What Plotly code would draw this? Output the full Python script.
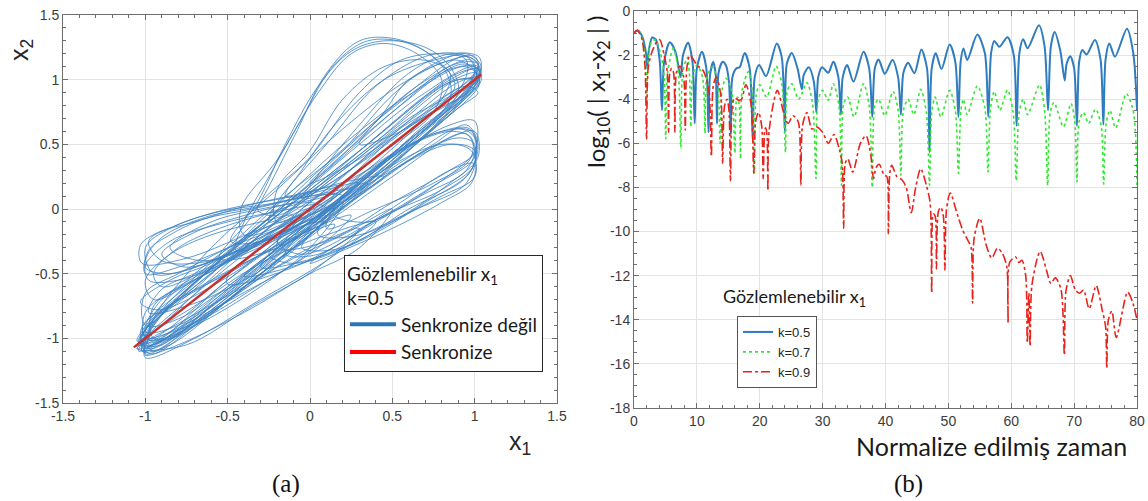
import plotly.graph_objects as go

# ------------------------------------------------------------------
# Panel (a): phase portrait x2 vs x1
# ------------------------------------------------------------------
SYNC_X1 = [-1.07, 1.04]
SYNC_X2 = [-1.07, 1.04]

LOOPS_DIAG = [
    [(0,0.12),(0.5,0.66),(0.9,1.05),(1.03,1.08),(0.9,0.85),(0.5,0.42),(0,-0.1),(-0.5,-0.62),(-0.9,-1.02),(-1.05,-1.08),(-0.9,-0.9),(-0.5,-0.42)],
    [(0,0.2),(0.5,0.75),(0.88,1.12),(1.02,1.12),(0.95,0.9),(0.6,0.45),(0.1,-0.1),(-0.4,-0.6),(-0.85,-1.05),(-1.02,-1.1),(-0.92,-0.85),(-0.5,-0.35)],
    [(0.1,0.3),(0.6,0.9),(0.95,1.18),(1.04,1.05),(0.8,0.7),(0.3,0.12),(-0.2,-0.4),(-0.7,-0.9),(-1.0,-1.12),(-0.98,-0.95),(-0.6,-0.45),(-0.2,-0.02)],
    [(-0.1,0.02),(0.4,0.52),(0.85,0.98),(1.02,1.0),(0.85,0.78),(0.4,0.3),(-0.1,-0.22),(-0.6,-0.75),(-0.95,-1.1),(-1.0,-0.98),(-0.7,-0.6),(-0.4,-0.3)],
    [(0.2,0.45),(0.65,0.95),(0.98,1.15),(1.0,0.95),(0.7,0.6),(0.2,0.05),(-0.3,-0.5),(-0.8,-0.98),(-1.04,-1.05),(-0.9,-0.78),(-0.5,-0.3),(-0.15,0.1)],
    [(0,0.05),(0.45,0.52),(0.9,0.98),(1.03,1.02),(0.92,0.88),(0.45,0.38),(0,-0.05),(-0.5,-0.55),(-0.92,-0.98),(-1.06,-1.06),(-0.95,-0.93),(-0.5,-0.45)],
    [(-0.2,0.15),(0.2,0.62),(0.6,1.0),(0.9,1.15),(1.03,1.0),(0.8,0.72),(0.3,0.2),(-0.2,-0.35),(-0.7,-0.85),(-0.98,-1.05),(-0.95,-0.85),(-0.6,-0.3)],
    [(0.05,-0.05),(0.5,0.35),(0.9,0.78),(1.02,0.9),(0.95,0.95),(0.6,0.68),(0.2,0.3),(-0.3,-0.2),(-0.75,-0.65),(-1.02,-0.92),(-0.95,-1.02),(-0.5,-0.55)],
    [(0.3,0.5),(0.7,0.9),(1.0,1.1),(1.04,1.0),(0.85,0.75),(0.4,0.25),(-0.1,-0.3),(-0.6,-0.8),(-0.97,-1.12),(-1.03,-1.0),(-0.7,-0.62),(-0.2,-0.05)],
    [(-0.3,-0.12),(0.1,0.35),(0.5,0.78),(0.85,1.08),(1.02,1.1),(0.9,0.88),(0.4,0.32),(-0.1,-0.2),(-0.6,-0.72),(-1.0,-1.08),(-0.98,-0.88),(-0.7,-0.5)],
    [(0.15,0.35),(0.55,0.8),(0.92,1.12),(1.03,1.06),(0.88,0.82),(0.45,0.35),(-0.05,-0.18),(-0.55,-0.7),(-0.93,-1.06),(-1.04,-1.02),(-0.8,-0.7),(-0.35,-0.18)],
    [(-0.05,0.1),(0.35,0.5),(0.8,0.95),(1.01,1.05),(0.9,0.8),(0.5,0.38),(0.05,-0.08),(-0.45,-0.58),(-0.88,-1.0),(-1.02,-0.96),(-0.75,-0.62),(-0.45,-0.3)],
    [(0.25,0.55),(0.6,0.88),(0.95,1.1),(1.03,0.98),(0.75,0.62),(0.25,0.1),(-0.25,-0.42),(-0.75,-0.92),(-1.02,-1.1),(-0.96,-0.9),(-0.55,-0.4),(-0.1,0.15)],
    [(-0.15,0.0),(0.3,0.45),(0.75,0.92),(1.0,1.08),(0.93,0.9),(0.55,0.48),(0.1,0.0),(-0.4,-0.5),(-0.85,-0.95),(-1.04,-1.1),(-0.9,-0.82),(-0.55,-0.4)],
    [(0.1,0.22),(0.5,0.62),(0.9,1.0),(1.02,0.98),(0.8,0.72),(0.35,0.25),(-0.1,-0.25),(-0.6,-0.78),(-0.98,-1.08),(-1.03,-0.95),(-0.7,-0.55),(-0.3,-0.12)],
]

LOOPS_UPPER = [
    [(-0.1,0.55),(0.1,1.05),(0.3,1.3),(0.5,1.32),(0.7,1.22),(0.83,1.05),(0.85,0.85),(0.6,0.5),(0.2,0.05),(-0.2,-0.3),(-0.55,-0.38),(-0.35,-0.05)],
    [(-0.05,0.7),(0.15,1.12),(0.35,1.3),(0.6,1.28),(0.8,1.12),(0.88,0.95),(0.7,0.7),(0.3,0.25),(-0.1,-0.15),(-0.45,-0.32),(-0.4,-0.1),(-0.25,0.25)],
    [(0.05,0.9),(0.25,1.2),(0.45,1.28),(0.65,1.2),(0.8,1.0),(0.75,0.75),(0.4,0.4),(0,0.0),(-0.4,-0.2),(-0.42,0.0),(-0.2,0.38)],
    [(0.3,0.9),(0.55,1.15),(0.8,1.2),(0.95,1.15),(0.92,0.95),(0.6,0.7),(0.2,0.3),(-0.2,-0.05),(-0.32,0.0),(0.0,0.4)],
    [(0.4,0.95),(0.7,1.18),(0.9,1.2),(1.02,1.12),(0.88,0.9),(0.5,0.58),(0.1,0.15),(-0.25,-0.1),(-0.2,0.05),(0.1,0.5)],
    [(0.3,0.65),(0.6,1.05),(0.85,1.2),(1.03,1.17),(1.0,0.95),(0.7,0.72),(0.3,0.35),(-0.05,0.08),(0.0,0.18)],
    [(0.5,0.88),(0.75,1.12),(0.95,1.2),(1.04,1.1),(0.95,0.9),(0.65,0.68),(0.25,0.35),(0.0,0.2),(0.2,0.45)],
    [(-0.15,0.5),(0.05,0.95),(0.25,1.22),(0.45,1.3),(0.7,1.25),(0.85,1.1),(0.9,0.9),(0.65,0.6),(0.25,0.15),(-0.15,-0.2),(-0.48,-0.25),(-0.32,0.05)],
    [(0.6,1.0),(0.85,1.15),(1.0,1.18),(1.02,1.02),(0.85,0.85),(0.55,0.6),(0.3,0.5),(0.45,0.75)],
    [(0.15,0.65),(0.45,1.0),(0.75,1.15),(0.95,1.18),(1.0,1.05),(0.8,0.85),(0.45,0.5),(0.05,0.15),(-0.15,0.1),(-0.05,0.3)],
    [(0.0,0.45),(0.2,0.85),(0.45,1.1),(0.7,1.15),(0.85,1.05),(0.8,0.85),(0.5,0.55),(0.15,0.15),(-0.2,-0.1),(-0.2,0.15)],
]

LOOPS_RIGHT = [
    [(0.5,0.25),(0.85,0.55),(1.0,0.6),(1.02,0.4),(0.85,0.2),(0.5,-0.1),(0.1,-0.35),(-0.3,-0.45),(-0.2,-0.3),(0.1,-0.1)],
    [(0.6,0.4),(0.9,0.62),(1.0,0.55),(0.98,0.3),(0.7,0.05),(0.3,-0.25),(-0.1,-0.42),(-0.25,-0.35),(0.2,0.05)],
    [(0.4,0.2),(0.75,0.5),(0.95,0.65),(1.02,0.5),(0.95,0.25),(0.6,0.0),(0.2,-0.3),(-0.05,-0.3),(0.0,-0.2)],
    [(0.45,0.3),(0.8,0.5),(0.98,0.45),(1.0,0.25),(0.8,0.1),(0.4,-0.15),(0,-0.4),(-0.4,-0.52),(-0.35,-0.45),(0,-0.15)],
    [(0.5,0.3),(0.85,0.5),(1.0,0.45),(0.95,0.2),(0.65,0.0),(0.3,-0.2),(0.05,-0.2),(0.1,-0.05)],
    [(0.3,0.1),(0.7,0.45),(0.95,0.58),(1.0,0.35),(0.8,0.15),(0.45,-0.05),(0.05,-0.35),(-0.15,-0.35),(-0.1,-0.25)],
    [(0.6,0.38),(0.9,0.55),(1.0,0.5),(0.95,0.3),(0.7,0.12),(0.35,-0.1),(0.15,-0.05),(0.2,0.0)],
    [(0.5,0.4),(0.85,0.65),(1.0,0.68),(1.0,0.45),(0.8,0.22),(0.4,-0.1),(-0.1,-0.45),(-0.5,-0.58),(-0.5,-0.52),(0,-0.05)],
    [(0.55,0.45),(0.85,0.6),(0.98,0.55),(0.97,0.38),(0.75,0.2),(0.4,0.0),(0.1,-0.15),(0.2,0.1)],
    [(0.35,0.3),(0.75,0.58),(0.97,0.62),(1.01,0.45),(0.85,0.3),(0.5,0.05),(0.1,-0.25),(-0.2,-0.3),(-0.05,0.0)],
    [(0.55,0.05),(0.85,0.3),(1.0,0.35),(0.98,0.2),(0.8,0.05),(0.5,-0.15),(0.2,-0.32),(0.0,-0.42),(0.2,-0.25)],
    [(0.4,0.35),(0.8,0.6),(0.98,0.6),(1.0,0.4),(0.75,0.18),(0.35,-0.12),(-0.05,-0.35),(-0.2,-0.25),(0.1,0.05)],
]

LOOPS_LEFT = [
    [(-0.55,-0.02),(-0.2,0.05),(0.1,0.15),(0.3,0.2),(0.1,0.0),(-0.3,-0.25),(-0.7,-0.45),(-0.95,-0.5),(-1.0,-0.3),(-0.85,-0.15)],
    [(-0.6,-0.05),(-0.3,0.02),(0.0,0.1),(0.2,0.1),(0.0,-0.1),(-0.4,-0.35),(-0.8,-0.55),(-0.98,-0.55),(-1.0,-0.4),(-0.9,-0.22)],
    [(-0.5,0.0),(-0.1,0.1),(0.25,0.22),(0.45,0.25),(0.2,0.05),(-0.2,-0.2),(-0.6,-0.4),(-0.9,-0.4),(-0.98,-0.25),(-0.8,-0.12)],
    [(-0.55,-0.15),(-0.3,-0.05),(0,0.05),(0.1,0.0),(-0.2,-0.2),(-0.6,-0.45),(-0.9,-0.6),(-0.95,-0.5),(-0.8,-0.3)],
    [(-0.4,-0.05),(-0.1,0.05),(0.15,0.12),(-0.05,-0.05),(-0.4,-0.28),(-0.75,-0.45),(-0.9,-0.35),(-0.7,-0.18)],
    [(-0.6,-0.2),(-0.3,-0.1),(-0.1,-0.05),(-0.3,-0.25),(-0.7,-0.55),(-0.95,-0.7),(-1.0,-0.55),(-0.85,-0.35)],
    [(-0.6,-0.1),(-0.3,0.0),(0.05,0.08),(0.35,0.2),(0.1,-0.05),(-0.3,-0.25),(-0.65,-0.4),(-0.85,-0.3)],
    [(-0.7,-0.1),(-0.4,0.02),(-0.05,0.12),(0.2,0.18),(0.05,0.02),(-0.35,-0.18),(-0.75,-0.38),(-1.02,-0.42),(-1.03,-0.28),(-0.92,-0.18)],
    [(-0.5,-0.1),(-0.2,-0.02),(0.05,0.03),(-0.15,-0.15),(-0.5,-0.35),(-0.85,-0.5),(-1.0,-0.45),(-0.85,-0.25)],
    [(-0.65,-0.08),(-0.35,0.0),(0.0,0.1),(0.25,0.15),(0.0,-0.05),(-0.4,-0.25),(-0.8,-0.45),(-1.0,-0.5),(-0.98,-0.32),(-0.85,-0.2)],
]

LOOPS_LOWER = [
    [(-0.5,-0.3),(-0.2,-0.1),(0,0.0),(-0.2,-0.3),(-0.5,-0.6),(-0.8,-0.85),(-1.0,-0.9),(-1.0,-0.65),(-0.8,-0.5)],
    [(-0.5,-0.4),(-0.1,-0.15),(0.1,-0.1),(-0.2,-0.4),(-0.5,-0.7),(-0.85,-1.0),(-1.0,-1.0),(-1.0,-0.8),(-0.8,-0.6)],
    [(-0.3,-0.25),(0,-0.05),(0.2,0.05),(0,-0.3),(-0.3,-0.6),(-0.7,-0.9),(-0.95,-1.0),(-0.95,-0.75),(-0.7,-0.55)],
    [(-0.3,-0.42),(0.1,-0.2),(0.4,-0.1),(0.1,-0.4),(-0.3,-0.7),(-0.7,-1.0),(-1.0,-1.15),(-0.98,-1.0),(-0.7,-0.75)],
    [(-0.2,-0.45),(0.2,-0.2),(0.5,0.0),(0.3,-0.3),(0,-0.5),(-0.4,-0.8),(-0.8,-1.05),(-1.0,-1.13),(-1.0,-1.1),(-0.6,-0.8)],
    [(-0.4,-0.6),(0,-0.3),(0.3,-0.15),(0.05,-0.45),(-0.35,-0.75),(-0.75,-1.05),(-1.05,-1.08),(-0.75,-0.85)],
    [(-0.45,-0.35),(-0.15,-0.12),(0.15,0.0),(-0.05,-0.25),(-0.4,-0.55),(-0.75,-0.75),(-0.98,-0.8),(-0.9,-0.62),(-0.7,-0.5)],
    [(-0.5,-0.5),(-0.1,-0.22),(0.25,-0.05),(0.05,-0.3),(-0.3,-0.58),(-0.7,-0.88),(-1.02,-1.0),(-0.95,-0.85),(-0.8,-0.7)],
    [(-0.6,-0.55),(-0.2,-0.3),(0.15,-0.12),(-0.05,-0.38),(-0.45,-0.68),(-0.85,-0.95),(-1.03,-1.05),(-0.95,-0.85)],
    [(-0.55,-0.45),(-0.2,-0.2),(0.1,-0.05),(-0.1,-0.32),(-0.45,-0.62),(-0.8,-0.9),(-1.0,-0.95),(-0.9,-0.7)],
    [(-0.65,-0.6),(-0.3,-0.35),(0.0,-0.15),(-0.2,-0.42),(-0.55,-0.75),(-0.9,-1.02),(-1.05,-1.02),(-0.9,-0.8)],
    [(-0.6,-0.42),(-0.3,-0.22),(-0.05,-0.05),(-0.25,-0.3),(-0.6,-0.6),(-0.92,-0.78),(-1.03,-0.72),(-0.85,-0.55)],
]

# ------------------------------------------------------------------
# Panel (b): log10(|x1-x2|) vs normalised time (t, value) read off
# ------------------------------------------------------------------
ERR_K05 = [(0.0,-1.0),(0.6,-0.88),(1.3,-1.15),(1.9,-1.9),(2.1,-2.6),(2.35,-1.8),(2.9,-1.2),(3.5,-1.3),(4.1,-2.3),(4.45,-4.5),(4.8,-2.3),(5.7,-1.42),(6.6,-1.85),(7.4,-3.0),(7.8,-2.0),(8.6,-1.44),(9.3,-2.3),(9.65,-5.1),(10.0,-2.6),(10.8,-1.85),(11.5,-2.6),(11.85,-5.5),(12.1,-2.9),(12.6,-2.3),(13.0,-2.9),(13.2,-5.1),(13.45,-2.8),(14.1,-2.3),(14.6,-2.45),(15.1,-3.2),(15.4,-5.6),(15.65,-3.0),(16.3,-2.6),(16.8,-2.55),(17.6,-1.9),(18.4,-2.6),(18.9,-5.9),(19.2,-3.0),(19.9,-2.45),(21.0,-2.95),(22.7,-1.47),(23.5,-2.1),(24.0,-5.5),(24.3,-2.4),(25.1,-1.9),(26.0,-2.6),(26.7,-3.55),(27.0,-2.9),(27.8,-2.55),(28.6,-3.2),(29.0,-4.6),(29.3,-3.0),(29.9,-2.55),(30.9,-2.8),(31.7,-2.3),(32.5,-3.0),(32.9,-4.7),(33.2,-3.0),(33.9,-2.45),(34.9,-3.2),(36.5,-1.85),(37.4,-2.6),(37.9,-4.8),(38.3,-2.6),(38.9,-2.2),(39.9,-2.85),(41.1,-2.22),(42.0,-3.0),(42.45,-4.7),(42.85,-2.8),(43.6,-2.35),(44.6,-2.82),(45.7,-1.75),(46.6,-2.6),(47.0,-6.4),(47.35,-2.6),(48.0,-1.92),(48.9,-2.63),(50.2,-1.52),(51.1,-2.3),(51.6,-4.8),(51.95,-2.3),(52.4,-1.7),(53.0,-2.22),(54.6,-1.07),(55.8,-1.9),(56.35,-4.8),(56.8,-1.9),(57.3,-1.36),(58.1,-1.62),(59.4,-1.19),(60.4,-2.0),(60.85,-5.2),(61.3,-1.9),(61.9,-1.28),(62.6,-1.69),(64.4,-0.65),(65.3,-1.6),(65.85,-4.5),(66.3,-1.6),(66.9,-0.95),(67.8,-1.8),(68.5,-3.15),(68.8,-2.4),(69.4,-2.05),(70.0,-2.6),(70.45,-5.2),(70.8,-2.3),(71.3,-1.77),(72.0,-1.97),(73.3,-1.31),(74.2,-2.2),(74.65,-5.15),(75.0,-2.2),(75.6,-1.47),(76.5,-2.07),(78.4,-0.8),(79.4,-1.9),(80.0,-4.5)]

ERR_K07 = [(0.0,-1.0),(0.6,-0.88),(1.3,-1.2),(1.8,-2.3),(2.0,-4.2),(2.25,-2.2),(2.7,-1.45),(3.4,-1.3),(4.2,-1.9),(4.8,-3.0),(5.05,-5.8),(5.35,-2.8),(6.25,-1.7),(7.0,-2.6),(7.45,-6.2),(7.75,-2.8),(8.5,-2.1),(8.8,-2.8),(9.05,-5.25),(9.3,-3.0),(10.0,-2.45),(10.9,-3.0),(11.3,-5.55),(11.6,-3.0),(12.5,-2.55),(13.3,-3.3),(13.7,-6.0),(14.0,-3.6),(14.6,-3.05),(15.5,-3.6),(16.05,-6.45),(16.3,-4.0),(16.5,-3.9),(16.75,-4.3),(16.95,-6.7),(17.2,-3.6),(18.2,-2.75),(18.8,-3.6),(19.15,-7.35),(19.45,-3.8),(20.0,-3.35),(21.1,-3.9),(22.6,-2.5),(23.5,-3.3),(24.1,-6.4),(24.4,-3.6),(25.1,-3.3),(26.2,-4.0),(27.5,-3.25),(28.4,-4.2),(28.95,-7.6),(29.3,-4.0),(30.0,-3.6),(30.9,-4.05),(31.7,-3.3),(32.6,-4.3),(33.0,-7.9),(33.35,-4.2),(34.0,-3.9),(35.0,-4.8),(36.5,-3.3),(37.4,-4.3),(37.9,-8.0),(38.3,-4.3),(38.9,-4.0),(39.9,-4.75),(41.2,-3.65),(42.0,-4.5),(42.45,-7.45),(42.85,-4.5),(43.6,-4.0),(44.5,-4.7),(45.6,-3.55),(46.5,-4.6),(47.0,-7.9),(47.35,-4.6),(47.9,-3.9),(48.8,-4.8),(50.2,-3.6),(51.1,-4.5),(51.6,-7.36),(52.0,-4.5),(52.4,-4.0),(53.0,-4.7),(54.6,-3.4),(55.8,-4.4),(56.3,-7.3),(56.7,-4.4),(57.3,-3.65),(58.2,-4.5),(59.4,-3.58),(60.3,-4.6),(60.8,-7.7),(61.25,-4.6),(61.9,-4.0),(62.6,-4.7),(64.5,-3.35),(65.3,-4.5),(65.8,-7.9),(66.2,-4.6),(66.8,-4.15),(68.3,-5.25),(69.5,-4.2),(70.1,-5.0),(70.45,-7.75),(70.8,-5.0),(71.5,-4.6),(72.3,-5.1),(73.4,-4.45),(74.3,-5.2),(74.7,-7.85),(75.1,-5.1),(75.7,-4.5),(76.6,-5.3),(78.3,-3.75),(79.3,-4.4),(79.75,-5.5),(80.0,-7.9)]

ERR_K09 = [(0.0,-1.0),(0.5,-0.88),(1.2,-1.2),(1.75,-2.5),(2.0,-5.8),(2.25,-2.6),(2.8,-1.9),(3.6,-1.4),(4.1,-1.3),(4.8,-2.0),(5.3,-2.8),(5.5,-5.5),(5.7,-2.8),(6.0,-2.6),(6.3,-2.8),(6.5,-5.5),(6.75,-2.8),(7.3,-2.5),(7.9,-3.0),(8.15,-5.4),(8.4,-2.6),(8.9,-2.0),(10.0,-2.45),(11.0,-2.7),(11.9,-3.6),(12.3,-6.6),(12.6,-3.4),(13.1,-3.0),(13.8,-3.8),(14.1,-6.9),(14.4,-4.3),(14.8,-4.0),(15.1,-4.5),(15.35,-7.7),(15.6,-4.4),(16.0,-3.95),(16.7,-4.05),(17.1,-4.0),(17.8,-3.35),(18.6,-4.2),(19.05,-7.35),(19.35,-5.0),(19.8,-4.6),(20.3,-5.2),(20.55,-7.6),(20.8,-5.4),(20.95,-5.3),(21.15,-5.6),(21.3,-8.15),(21.5,-5.4),(22.8,-3.6),(23.8,-4.6),(24.5,-5.1),(25.3,-4.75),(26.1,-5.0),(26.35,-5.5),(26.55,-7.9),(26.8,-5.2),(27.5,-4.6),(28.3,-5.35),(29.0,-5.25),(30.0,-5.5),(30.9,-6.0),(31.8,-5.6),(32.6,-6.2),(33.1,-6.9),(33.35,-9.85),(33.6,-6.9),(34.0,-6.7),(34.8,-7.3),(36.0,-6.0),(36.9,-5.65),(37.7,-6.6),(38.1,-7.6),(38.5,-7.1),(39.0,-6.95),(39.8,-7.45),(40.2,-7.5),(40.45,-10.1),(40.7,-7.3),(41.0,-7.0),(41.8,-7.5),(42.6,-7.65),(43.3,-8.0),(44.1,-9.15),(44.8,-8.0),(45.6,-7.15),(46.5,-7.9),(47.1,-8.7),(47.35,-12.8),(47.6,-9.2),(47.9,-9.3),(48.1,-11.7),(48.4,-9.1),(48.8,-8.9),(49.2,-9.3),(49.45,-11.75),(49.7,-9.0),(50.3,-8.25),(51.4,-9.2),(52.3,-9.95),(53.1,-10.4),(53.6,-10.7),(53.85,-13.25),(54.1,-10.3),(55.0,-9.4),(56.0,-10.6),(56.9,-11.2),(57.8,-10.75),(58.6,-11.0),(59.3,-11.6),(59.5,-14.15),(59.75,-11.4),(60.7,-11.15),(61.2,-11.4),(61.7,-11.3),(62.3,-12.0),(62.55,-15.05),(62.8,-12.8),(63.0,-15.2),(63.3,-12.4),(64.6,-10.9),(65.6,-11.75),(66.3,-12.35),(67.0,-12.1),(67.9,-12.6),(68.45,-15.6),(68.7,-12.7),(69.4,-12.0),(70.2,-12.65),(70.9,-12.8),(71.5,-12.65),(72.4,-13.5),(73.5,-12.45),(74.5,-13.6),(75.0,-14.3),(75.2,-16.2),(75.45,-14.0),(76.0,-13.6),(76.7,-14.8),(78.5,-12.75),(79.3,-13.2),(80.0,-14.0)]

# tick labels
A_TICKS = [-1.5, -1, -0.5, 0, 0.5, 1, 1.5]
A_TICKTEXT = ["-1.5", "-1", "-0.5", "0", "0.5", "1", "1.5"]
B_XTICKS = [0, 10, 20, 30, 40, 50, 60, 70, 80]
B_YTICKS = [0, -2, -4, -6, -8, -10, -12, -14, -16, -18]
B_YTICKTEXT = ["0", "-2", "-4", "-6", "-8", "-10", "-12", "-14", "-16", "-18"]

# ------------------------------------------------------------------
W, H = 1148, 501
def px(x): return x / W
def py(y): return 1 - y / H

def loops_to_xy(*families):
    xs, ys = [], []
    for fam in families:
        for loop in fam:
            pts = loop + [loop[0]]
            xs += [p[0] for p in pts] + [None]
            ys += [p[1] for p in pts] + [None]
    return xs, ys

BLUE = "#3a80c3"
fig = go.Figure()

lx, ly = loops_to_xy(LOOPS_DIAG, LOOPS_UPPER, LOOPS_RIGHT, LOOPS_LEFT, LOOPS_LOWER)
fig.add_trace(go.Scatter(x=lx, y=ly, mode="lines", xaxis="x", yaxis="y",
                         line=dict(color=BLUE, width=0.8, shape="spline", smoothing=1.0),
                         showlegend=False, hoverinfo="skip"))
fig.add_trace(go.Scatter(x=SYNC_X1, y=SYNC_X2, mode="lines", xaxis="x", yaxis="y",
                         line=dict(color="#c9302c", width=2.5), showlegend=False))
# legend entries for panel (a)
fig.add_trace(go.Scatter(x=[None], y=[None], mode="lines", xaxis="x", yaxis="y",
                         line=dict(color="#2e75b6", width=4), name="Senkronize değil", legend="legend"))
fig.add_trace(go.Scatter(x=[None], y=[None], mode="lines", xaxis="x", yaxis="y",
                         line=dict(color="#ff0000", width=4), name="Senkronize", legend="legend"))

for data, name, color, dash, w in [(ERR_K05, "k=0.5", "#2f7cc0", "solid", 2.0),
                                   (ERR_K07, "k=0.7", "#33e633", "dot", 1.6),
                                   (ERR_K09, "k=0.9", "#e8231c", "dashdot", 1.6)]:
    t = [p[0] for p in data]
    v = [p[1] for p in data]
    fig.add_trace(go.Scatter(x=t, y=v, mode="lines", xaxis="x2", yaxis="y2", name=name,
                             legend="legend2",
                             line=dict(color=color, width=w, dash=dash, shape="spline", smoothing=0.8)))

AX = dict(showline=True, linecolor="#6e6e6e", linewidth=1, mirror="ticks",
          ticks="inside", ticklen=5, tickcolor="#6e6e6e", automargin=False,
          showgrid=True, gridcolor="#e3e3e3", gridwidth=1, zeroline=False,
          tickfont=dict(family="Liberation Sans, Arial", size=14, color="#3c3c3c"))

fig.update_layout(
    width=W, height=H, margin=dict(l=0, r=0, t=0, b=0, autoexpand=False),
    paper_bgcolor="white", plot_bgcolor="white",
    xaxis=dict(AX, domain=[px(63), px(557)], range=[-1.5, 1.5], tickvals=A_TICKS, ticktext=A_TICKTEXT,
               minor=dict(ticks="inside", ticklen=3, dtick=0.1, tick0=0, showgrid=False, tickcolor="#6e6e6e"),
               anchor="y"),
    yaxis=dict(AX, domain=[py(403), py(15)], range=[-1.5, 1.5], tickvals=A_TICKS, ticktext=A_TICKTEXT,
               minor=dict(ticks="inside", ticklen=3, dtick=0.1, tick0=0, showgrid=False, tickcolor="#6e6e6e"),
               anchor="x"),
    xaxis2=dict(AX, domain=[px(634), px(1137)], range=[0, 80], tickvals=B_XTICKS,
                minor=dict(ticks="inside", ticklen=3, dtick=2, tick0=0, showgrid=False, tickcolor="#6e6e6e"),
                anchor="y2"),
    yaxis2=dict(AX, domain=[py(408), py(11)], range=[-18, 0], tickvals=B_YTICKS, ticktext=B_YTICKTEXT,
                minor=dict(ticks="inside", ticklen=3, dtick=0.5, tick0=0, showgrid=False, tickcolor="#6e6e6e"),
                anchor="x2"),
    legend=dict(x=px(344), y=py(255), xanchor="left", yanchor="top",
                bgcolor="white", bordercolor="#262626", borderwidth=1,
                font=dict(family="Lato", size=19, color="#1a1a1a"),
                title=dict(text="Gözlemlenebilir x<sub>1</sub><br>k=0.5",
                           font=dict(family="Lato", size=19, color="#1a1a1a")),
                itemwidth=46),
    legend2=dict(x=px(737), y=py(316), xanchor="left", yanchor="top",
                 bgcolor="white", bordercolor="#555555", borderwidth=1,
                 font=dict(family="Liberation Sans, Arial", size=13, color="#262626"),
                 itemwidth=30, tracegroupgap=0),
)

ann_font = dict(family="Liberation Sans, Arial", size=25, color="#262626")
annotations = [
    dict(text="x<sub>2</sub>", x=px(21), y=py(50), textangle=-90, font=ann_font),
    dict(text="x<sub>1</sub>", x=px(520), y=py(443), font=ann_font),
    dict(text="log<sub>10</sub>( | x<sub>1</sub>-x<sub>2</sub> | )", x=px(598), y=py(92), textangle=-90,
         font=dict(family="Lato", size=24, color="#1a1a1a")),
    dict(text="Normalize edilmiş zaman", x=px(991), y=py(446),
         font=dict(family="Lato", size=25, color="#1a1a1a")),
    dict(text="Gözlemlenebilir x<sub>1</sub>", x=px(794), y=py(297),
         font=dict(family="Lato", size=18, color="#1a1a1a")),
    dict(text="(a)", x=px(286), y=py(484), font=dict(family="Liberation Serif, Times New Roman", size=25, color="#111111")),
    dict(text="(b)", x=px(908), y=py(484), font=dict(family="Liberation Serif, Times New Roman", size=25, color="#111111")),
]
for a in annotations:
    a.update(xref="paper", yref="paper", showarrow=False, xanchor="center", yanchor="middle")
fig.update_layout(annotations=annotations)

fig.write_html("out.html", config={"displayModeBar": False},
               post_script="document.body.style.margin='0';document.body.style.overflow='hidden';")
